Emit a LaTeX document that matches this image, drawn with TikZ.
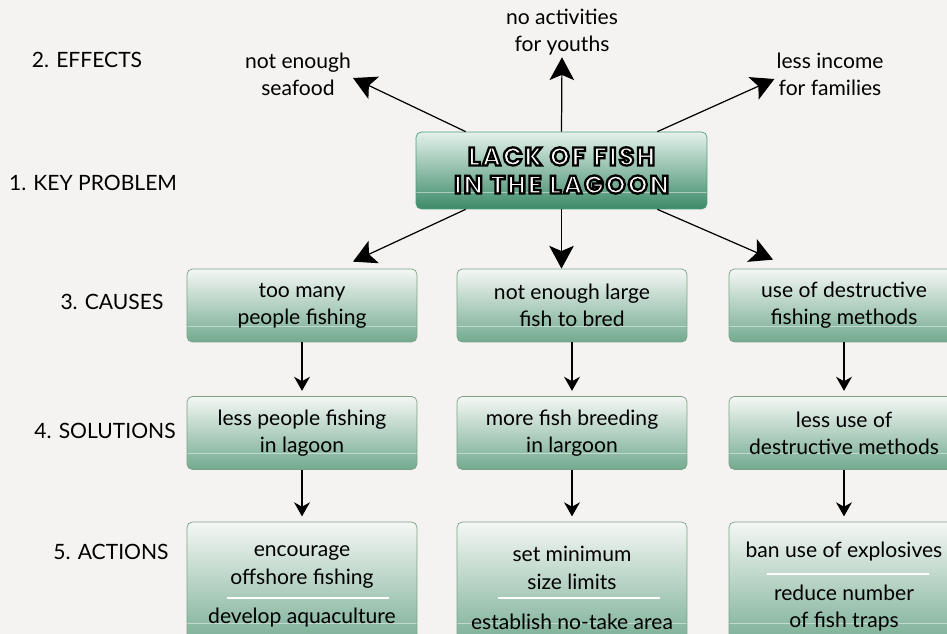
\documentclass[tikz,border=0pt]{standalone}
\usepackage{fontspec}
\setmainfont{Lato}
\newfontfamily\keyfont{Poppins}[LetterSpace=8]
\usetikzlibrary{positioning,arrows.meta,calc}

\definecolor{bgpaper}{HTML}{F4F3F1}
\definecolor{boxtop}{HTML}{F4F7F4}
\definecolor{boxbot}{HTML}{72AA8F}
\definecolor{boxline}{HTML}{7CA186}
\definecolor{keytop}{HTML}{E4F1EB}
\definecolor{keybot}{HTML}{3C8A67}
\definecolor{keyline}{HTML}{4F9E7A}

% outlined white letters
\newcommand{\outlined}[1]{\special{pdf:literal direct q 0 0 0 RG 2 Tr 1.3 w}#1\special{pdf:literal direct Q}}

\begin{document}
\begin{tikzpicture}[x=0.02cm, y=-0.02cm,
font = \fontsize{12}{15.5}\selectfont,
glass/.style = {path picture = {\draw[white, opacity = 0.45] ($(path picture bounding box.south west)!0.22!(path picture bounding box.north west)$) -- ($(path picture bounding box.south east)!0.22!(path picture bounding box.north east)$);}},
box/.style = {draw = boxline, rounded corners = 3pt, top color = boxtop, bottom color = boxbot, minimum width = 4.6cm, minimum height = 1.46cm, inner sep = 0pt, align = center, glass},
keybox/.style = {draw = keyline, rounded corners = 3pt, top color = keytop, bottom color = keybot, minimum width = 5.82cm, minimum height = 1.54cm, inner sep = 0pt, align = center, glass, text = white, font = \keyfont\bfseries\fontsize{14.5}{16}\selectfont},
txt/.style = {align = center, inner sep = 1pt},
steplabel/.style = {inner sep = 0pt},
bigarrow/.style = {-{Stealth[length = 13pt, width = 14pt, inset = 3pt]}, line width = 0.7pt},
smallarrow/.style = {-{Stealth[length = 8pt, width = 9pt, inset = 2.5pt]}, line width = 1pt, shorten > = 3pt},
whiterule/.style = {white, line width = 1.6pt},
]
\useasboundingbox (0, 0) rectangle (947, 634);
\fill[bgpaper] (0, 0) rectangle (947, 634);
\clip (0, 0) rectangle (947, 634);

% step labels
\node[steplabel] (l2) at (87, 60) {2. EFFECTS};
\node[steplabel] (l1) at (93, 183) {1. KEY PROBLEM};
\node[steplabel] (l3) at (112, 302) {3. CAUSES};
\node[steplabel] (l4) at (105, 431) {4. SOLUTIONS};
\node[steplabel] (l5) at (111, 552) {5. ACTIONS};

% key problem
\node[keybox] (key) at (561.5, 170.5) {\outlined{LACK OF FISH}\\ \outlined{IN THE LAGOON}};

% effects
\node[txt] (e1) at (298, 74) {not enough\\seafood};
\node[txt] (e2) at (562, 32) {no activities\\for youths};
\node[txt] (e3) at (830, 74) {less income\\for families};

\draw[bigarrow] ([xshift = 1cm]key.north west) -- ([yshift = -0.08cm]e1.east);
\draw[bigarrow] (key.north) -- (e2.south);
\draw[bigarrow] ([xshift = -1cm]key.north east) -- ([yshift = -0.1cm]e3.west);

% causes
\node[box] (c1) at (302, 305.5) {too many\\people fishing};
\node[box] (c2) at (572, 305.5) {not enough large\\fish to bred};
\node[box] (c3) at (844, 305.5) {use of destructive\\fishing methods};

\draw[bigarrow] ([xshift = 1cm]key.south west) -- ([xshift = 1.02cm, yshift = 0.14cm]c1.north);
\draw[bigarrow] (key.south) -- (key.south |- c2.north);
\draw[bigarrow] ([xshift = -1cm]key.south east) -- ([xshift = -1.42cm, yshift = 0.18cm]c3.north);

% solutions
\node[box] (s1) at (302, 433) {less people fishing\\in lagoon};
\node[box] (s2) at (572, 433) {more fish breeding\\in largoon};
\node[box] (s3) at (844, 433) {less use of\\destructive methods};

\path[smallarrow] (c1) edge (s1) (c2) edge (s2) (c3) edge (s3);

% actions
\node[box, minimum height = 2.6cm] (a1) at (302, 587) {};
\node[box, minimum height = 2.6cm] (a2) at (572, 587) {};
\node[box, minimum height = 2.6cm] (a3) at (844, 587) {};

\path[smallarrow] (s1) edge (a1.north) (s2) edge (a2.north) (s3) edge (a3.north);

\node[txt] (a1u) at (302, 567) {encourage\\offshore fishing};
\draw[whiterule] (227, 598) -- (389, 598);
\node[txt] (a1l) at (302, 618) {develop aquaculture};

\node[txt] (a2u) at (572, 568) {set minimum\\size limits};
\draw[whiterule] (498, 598) -- (660, 598);
\node[txt] (a2l) at (572, 622) {establish no-take area};

\node[txt] (a3u) at (844, 552) {ban use of explosives};
\draw[whiterule] (767, 574) -- (929, 574);
\node[txt] (a3l) at (844, 608) {reduce number\\of fish traps};
\end{tikzpicture}
\end{document}
